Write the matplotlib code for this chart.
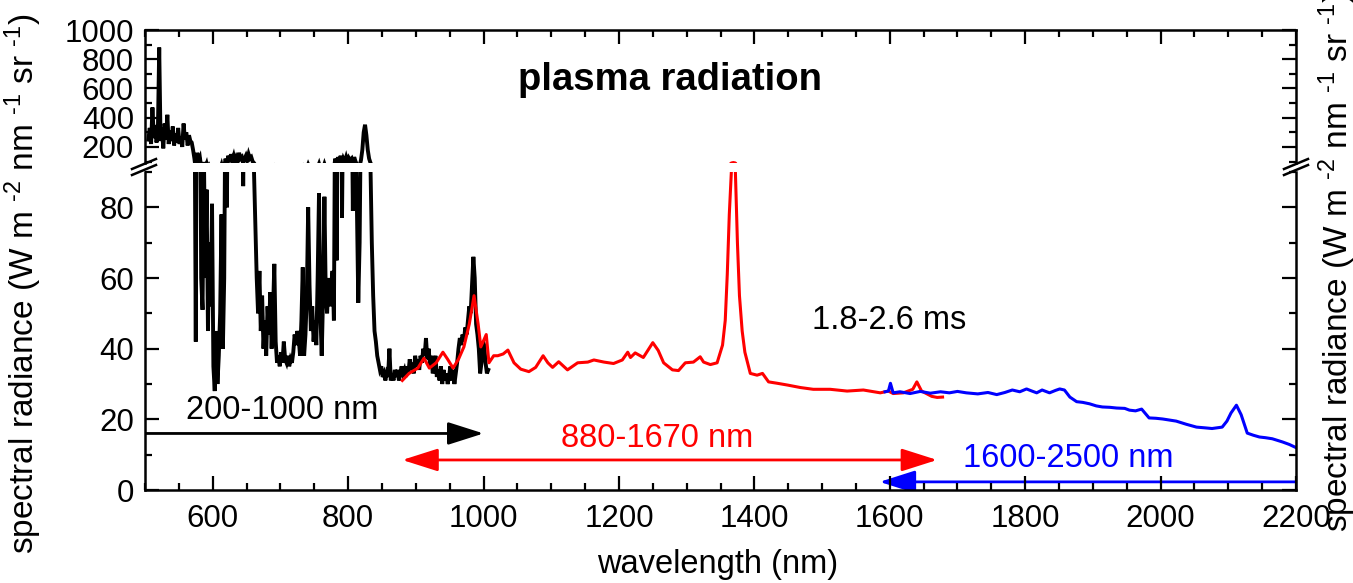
import matplotlib
matplotlib.use("Agg")
import matplotlib.pyplot as plt
from matplotlib.lines import Line2D
from matplotlib.patches import FancyArrowPatch
from matplotlib.ticker import MultipleLocator

plt.rcParams['font.family'] = ['Liberation Sans', 'DejaVu Sans']
plt.rcParams['mathtext.fontset'] = 'custom'
plt.rcParams['mathtext.rm'] = 'Liberation Sans'
plt.rcParams['mathtext.it'] = 'Liberation Sans'
plt.rcParams['mathtext.default'] = 'regular'

# ---- spectra -------------------------------------------------------------
# 200-1000 nm spectrometer (shown from 505 nm)
vis_wl = [505, 507, 509, 511, 513, 515, 517, 519, 521, 523, 525, 527, 529, 531,
          533, 535, 537, 539, 541, 543, 545, 547, 549, 551, 553, 555, 557, 559,
          561, 563, 565, 567, 569, 571, 573, 575, 577, 579, 581, 583, 585, 587,
          589, 591, 593, 595, 597, 599, 601, 603, 605, 607, 609, 611, 613, 615,
          617, 619, 621, 623, 625, 627, 629, 631, 633, 635, 637, 639, 641, 643,
          645, 647, 649, 651, 653, 655, 657, 659, 661, 663, 665, 667, 669, 671,
          673, 675, 677, 679, 681, 683, 685, 687, 689, 691, 693, 695, 697, 699,
          701, 703, 705, 707, 709, 711, 713, 715, 717, 719, 721, 723, 725, 727,
          729, 731, 733, 735, 737, 739, 741, 743, 745, 747, 749, 751, 753, 755,
          757, 759, 761, 763, 765, 767, 769, 771, 773, 775, 777, 779, 781, 783,
          785, 787, 789, 791, 793, 795, 797, 799, 801, 803, 805, 807, 809, 811,
          813, 815, 817, 819, 821, 823, 825, 827, 829, 831, 833, 835, 837, 839,
          841, 843, 845, 847, 849, 851, 853, 855, 857, 859, 861, 863, 865, 867,
          869, 871, 873, 875, 877, 879, 881, 883, 885, 887, 889, 891, 893, 895,
          897, 899, 901, 903, 905, 907, 909, 911, 913, 915, 917, 919, 921, 923,
          925, 927, 929, 931, 933, 935, 937, 939, 941, 943, 945, 947, 949, 951,
          953, 955, 957, 959, 961, 963, 965, 967, 969, 971, 973, 975, 977, 979,
          981, 983, 985, 987, 989, 991, 993, 995, 997, 999, 1001, 1003, 1005, 1007]
vis_rad = [250, 330, 220, 470, 260, 350, 230, 300, 880, 240, 330, 190, 360, 250,
           420, 220, 310, 240, 340, 210, 290, 230, 330, 220, 270, 200, 360, 250,
           300, 210, 280, 240, 230, 180, 120, 42, 160, 110, 130, 60, 51, 95,
           60, 85, 45, 70, 52, 81, 35, 28, 45, 30, 38, 50, 78, 40,
           60, 120, 80, 140, 95, 150, 110, 140, 100, 130, 110, 160, 120, 130,
           86, 120, 140, 110, 150, 120, 130, 100, 90, 75, 60, 50, 62, 45,
           55, 40, 48, 38, 52, 44, 56, 40, 50, 64, 42, 36, 38, 35,
           39, 36, 42, 37, 36, 38, 35, 37, 36, 39, 44, 41, 45, 43,
           38, 48, 63, 38, 44, 55, 80, 58, 45, 52, 42, 48, 41, 60,
           84, 50, 38, 55, 83, 55, 50, 60, 52, 58, 62, 48, 120, 65,
           130, 90, 140, 77, 120, 100, 130, 95, 125, 110, 120, 79, 130, 100,
           80, 53, 70, 110, 180, 300, 352, 280, 180, 120, 92, 70, 55, 45,
           42, 38, 36, 34, 35, 32, 33, 31, 33, 32, 40, 31, 33, 31,
           34, 32, 34, 31, 33, 35, 33, 34, 32, 35, 33, 37, 34, 36,
           33, 38, 35, 37, 34, 38, 36, 40, 38, 43, 37, 40, 35, 38,
           33, 35, 38, 32, 34, 31, 35, 30, 34, 31, 33, 30, 32, 35,
           31, 34, 30, 33, 36, 40, 43, 41, 44, 42, 46, 44, 48, 52,
           50, 58, 66, 60, 47, 44, 40, 33, 36, 42, 41, 36, 33, 34]

# 880-1670 nm spectrometer
nir_wl = [880, 890, 903, 912, 920, 930, 940, 947, 955, 963, 971, 979, 986, 992,
          996, 1004, 1008, 1015, 1021, 1029, 1036, 1045, 1055, 1067, 1077, 1088,
          1095, 1102, 1111, 1124, 1139, 1154, 1163, 1178, 1192, 1205, 1213, 1217,
          1224, 1236, 1250, 1258, 1266, 1279, 1288, 1298, 1310, 1320, 1325, 1335,
          1345, 1353, 1357, 1360, 1363, 1366, 1369, 1372, 1375, 1378, 1382, 1386,
          1390, 1394, 1404, 1412, 1421, 1434, 1449, 1468, 1487, 1512, 1537, 1561,
          1586, 1598, 1605, 1620, 1634, 1640, 1647, 1654, 1662, 1670, 1678]
nir_rad = [31, 33, 34.5, 37.3, 34.5, 36, 39, 37, 34.5, 37, 40.5, 47, 55, 47,
           40.5, 44, 36, 38, 38, 38.5, 39.6, 36, 34.2, 33.5, 34.7, 38,
           36, 34.7, 36.3, 34, 36, 36.2, 36.8, 36.2, 35.8, 36.8, 39, 37.5,
           38.8, 37.5, 41.7, 39.5, 36, 34, 33.8, 36, 36.2, 37.7, 36.2, 35.5,
           36, 41, 48, 61, 78, 90, 93, 90, 70, 55, 45, 39,
           36, 33, 32.5, 33, 30.6, 30.2, 29.7, 29, 28.5, 28.5, 28, 28.3,
           27.5, 28, 27.3, 27.5, 28.5, 30.6, 28, 27.3, 26.5, 26.2, 26.3]

# 1600-2500 nm spectrometer (shown up to 2200 nm)
swir_wl = [1593, 1598, 1601, 1605, 1615, 1630, 1645, 1660, 1675, 1688, 1700, 1713,
           1730, 1745, 1758, 1770, 1781, 1792, 1802, 1810, 1817, 1825, 1836, 1845,
           1851, 1858, 1866, 1876, 1885, 1895, 1905, 1914, 1925, 1935, 1947, 1954,
           1963, 1972, 1983, 1993, 2003, 2013, 2023, 2038, 2053, 2065, 2076, 2091,
           2098, 2104, 2112, 2119, 2128, 2137, 2146, 2155, 2165, 2180, 2190, 2200]
swir_rad = [27.8, 28, 30.2, 27.5, 27.8, 27.3, 27.9, 27.4, 27.8, 27.5, 27.9, 27.5,
            27.2, 27.6, 27, 27.6, 28.3, 27.8, 28.6, 28, 27.5, 28.3, 27.5, 28.2,
            28.6, 28.3, 26.3, 25, 24.8, 24.4, 23.8, 23.5, 23.4, 23.2, 23.1, 22.6,
            22.4, 22.9, 20.4, 20.3, 20.1, 19.8, 19.5, 18.6, 17.8, 17.6, 17.4, 17.8,
            19.5, 21.8, 24, 21.3, 16.1, 15.5, 15, 14.8, 14.5, 13.6, 12.9, 12]

# spectral ranges of the three instruments (nm) and arrow heights
ranges = [(200, 1000), (880, 1670), (2500, 1585)]
range_labels = ['200-1000 nm', '880-1670 nm', '1600-2500 nm']
range_y = [16, 8.5, 2.3]

# ---- figure --------------------------------------------------------------
W, H = 1353, 583
fig = plt.figure(figsize=(W / 100, H / 100), dpi=100)

left, right = 145 / W, 1296 / W
ax_top = fig.add_axes([left, 1 - 163 / H, right - left, (163 - 30) / H])
ax_bot = fig.add_axes([left, 1 - 490 / H, right - left, (490 - 172) / H])

for ax in (ax_top, ax_bot):
    ax.plot(vis_wl, vis_rad, color='black', lw=2.8, solid_joinstyle='miter')
    ax.plot(nir_wl, nir_rad, color='#ff0000', lw=2.2)
    ax.plot(swir_wl, swir_rad, color='#0000ff', lw=2.2)
    ax.set_xlim(500, 2200)
    ax.xaxis.set_major_locator(MultipleLocator(200))
    ax.xaxis.set_minor_locator(MultipleLocator(50))
    for s in ax.spines.values():
        s.set_linewidth(1.8)
    ax.tick_params(which='both', direction='in', width=1.6, labelsize=22.5,
                   left=True, right=True)
    ax.tick_params(which='major', length=10)
    ax.tick_params(which='minor', length=5)

ax_top.set_ylim(90, 1000)
ax_top.yaxis.set_major_locator(MultipleLocator(200))
ax_top.yaxis.set_minor_locator(MultipleLocator(100))
ax_top.set_yticks([200, 400, 600, 800, 1000])
ax_top.spines['bottom'].set_visible(False)
ax_top.tick_params(which='both', bottom=False, top=True, labelbottom=False)
ax_top.tick_params(axis='y', pad=8)

ax_bot.set_ylim(0, 90)
ax_bot.yaxis.set_major_locator(MultipleLocator(20))
ax_bot.yaxis.set_minor_locator(MultipleLocator(10))
ax_bot.spines['top'].set_visible(False)
ax_bot.tick_params(which='both', top=False, bottom=True)
ax_bot.tick_params(axis='y', pad=8)
ax_bot.tick_params(axis='x', pad=10)

# break marks on both vertical axes
for x0 in (132, 1284):
    for dy in (0, -6):
        fig.add_artist(Line2D([x0 / W, (x0 + 24) / W],
                              [1 - (175 + dy) / H, 1 - (165 + dy) / H],
                              color='black', lw=1.8, transform=fig.transFigure,
                              clip_on=False))

# instrument ranges
colors = ['black', '#ff0000', '#0000ff']
styles = ['-|>,head_length=1.1,head_width=0.35',
          '<|-|>,head_length=1.1,head_width=0.35',
          '-|>,head_length=1.1,head_width=0.35']
for (x0, x1), yv, c, st in zip(ranges, range_y, colors, styles):
    ax_bot.add_patch(FancyArrowPatch((x0, yv), (x1, yv), arrowstyle=st,
                                     mutation_scale=20, lw=2, color=c,
                                     shrinkA=0, shrinkB=0))

ax_bot.text(702, 22.6, range_labels[0], color='black', fontsize=23.5,
            ha='center', va='center')
ax_bot.text(1256, 14.7, range_labels[1], color='#ff0000', fontsize=23.5,
            ha='center', va='center')
ax_bot.text(1864, 9.0, range_labels[2], color='#0000ff', fontsize=23.5,
            ha='center', va='center')
ax_bot.text(1485, 48, '1.8-2.6 ms', color='black', fontsize=23.5,
            ha='left', va='center')

fig.text(670 / W, 1 - 80 / H, 'plasma radiation', fontsize=27.5,
         fontweight='bold', ha='center', va='center')

ylab = (r'spectral radiance (W m $^{\text{-2}}$ nm $^{\text{-1}}$ '
        r'sr $^{\text{-1}}$)')
fig.text(23 / W, 1 - 284 / H, ylab, rotation=90, fontsize=24,
         ha='center', va='center')
fig.text(1337 / W, 1 - 262 / H, ylab, rotation=90, fontsize=24,
         ha='center', va='center')
fig.text(718 / W, 1 - 565 / H, 'wavelength (nm)', fontsize=23.5,
         ha='center', va='center')

fig.savefig('out.png', dpi=100)
